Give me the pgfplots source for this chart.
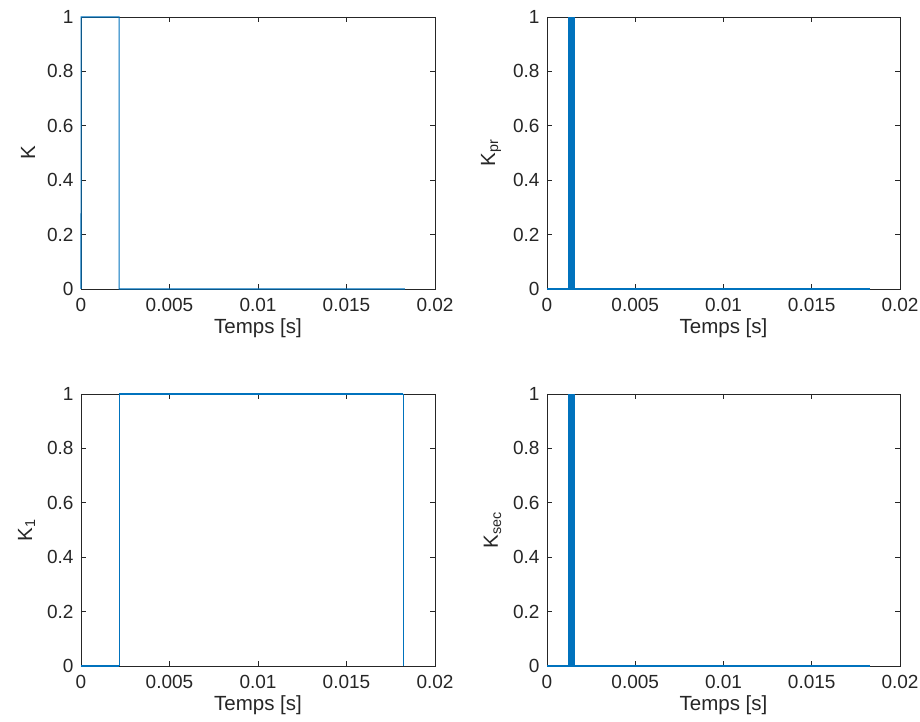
\documentclass[border=0pt]{standalone}
\usepackage{fontspec}
\setmainfont{Liberation Sans}
\usepackage{pgfplots}
\pgfplotsset{compat=1.18}
\definecolor{mblue}{RGB}{0,114,189}
\definecolor{axgray}{RGB}{38,38,38}
\pgfplotsset{
  every axis/.append style={
    scale only axis, width=354pt, height=272pt,
    xmin=0, xmax=0.02, ymin=0, ymax=1,
    xtick={0,0.005,0.01,0.015,0.02},
    xticklabels={0,0.005,0.01,0.015,0.02},
    ytick={0,0.2,0.4,0.6,0.8,1},
    yticklabels={0,0.2,0.4,0.6,0.8,1},
    scaled x ticks=false,
    tick align=inside, major tick length=5pt,
    axis line style={axgray, line width=0.8pt},
    every tick/.style={axgray, line width=0.8pt},
    tick label style={font=\fontsize{19}{22}\selectfont, text=axgray},
    xticklabel style={yshift=-6pt},
    yticklabel style={xshift=-4pt},
    label style={font=\fontsize{20.5}{23}\selectfont, text=axgray},
    ylabel style={yshift=5pt},
    xlabel={Temps [s]},
    anchor=south west,
    clip=false,
  }
}
\begin{document}
\begin{tikzpicture}[x=1pt,y=1pt]
\useasboundingbox (0,0) rectangle (920,722);
% top-left
\begin{axis}[at={(81pt,433pt)}, ylabel={K}]
\addplot[draw=mblue, line width=1.1pt] coordinates {(0,0)(0.00001,1)(0.00215,1)(0.00215,0)(0.0183,0)};
\end{axis}
% top-right
\begin{axis}[at={(547pt,433pt)}, width=353pt, ylabel={K\textsubscript{pr}}]
\addplot[draw=mblue, line width=1.4pt] coordinates {(0,0)(0.0183,0)};
\addplot[fill=mblue, draw=mblue, line width=0.5pt] coordinates {(0.00119,0)(0.00119,1)(0.00155,1)(0.00155,0)} -- cycle;
\end{axis}
% bottom-left
\begin{axis}[at={(81pt,56pt)}, ylabel={K\textsubscript{1}}]
\addplot[draw=mblue, line width=1.1pt] coordinates {(0,0)(0.00216,0)};
\addplot[draw=mblue, line width=1.1pt] coordinates {(0.00216,0)(0.00216,1)};
\addplot[draw=mblue, line width=1.1pt] coordinates {(0.00216,1)(0.01822,1)};
\addplot[draw=mblue, line width=1.1pt] coordinates {(0.01822,1)(0.01822,0)};
\end{axis}
% bottom-right
\begin{axis}[at={(547pt,56pt)}, width=353pt, ylabel={K\textsubscript{sec}}]
\addplot[draw=mblue, line width=1.4pt] coordinates {(0,0)(0.0183,0)};
\addplot[fill=mblue, draw=mblue, line width=0.5pt] coordinates {(0.00119,0)(0.00119,1)(0.00155,1)(0.00155,0)} -- cycle;
\end{axis}
\end{tikzpicture}
\end{document}
